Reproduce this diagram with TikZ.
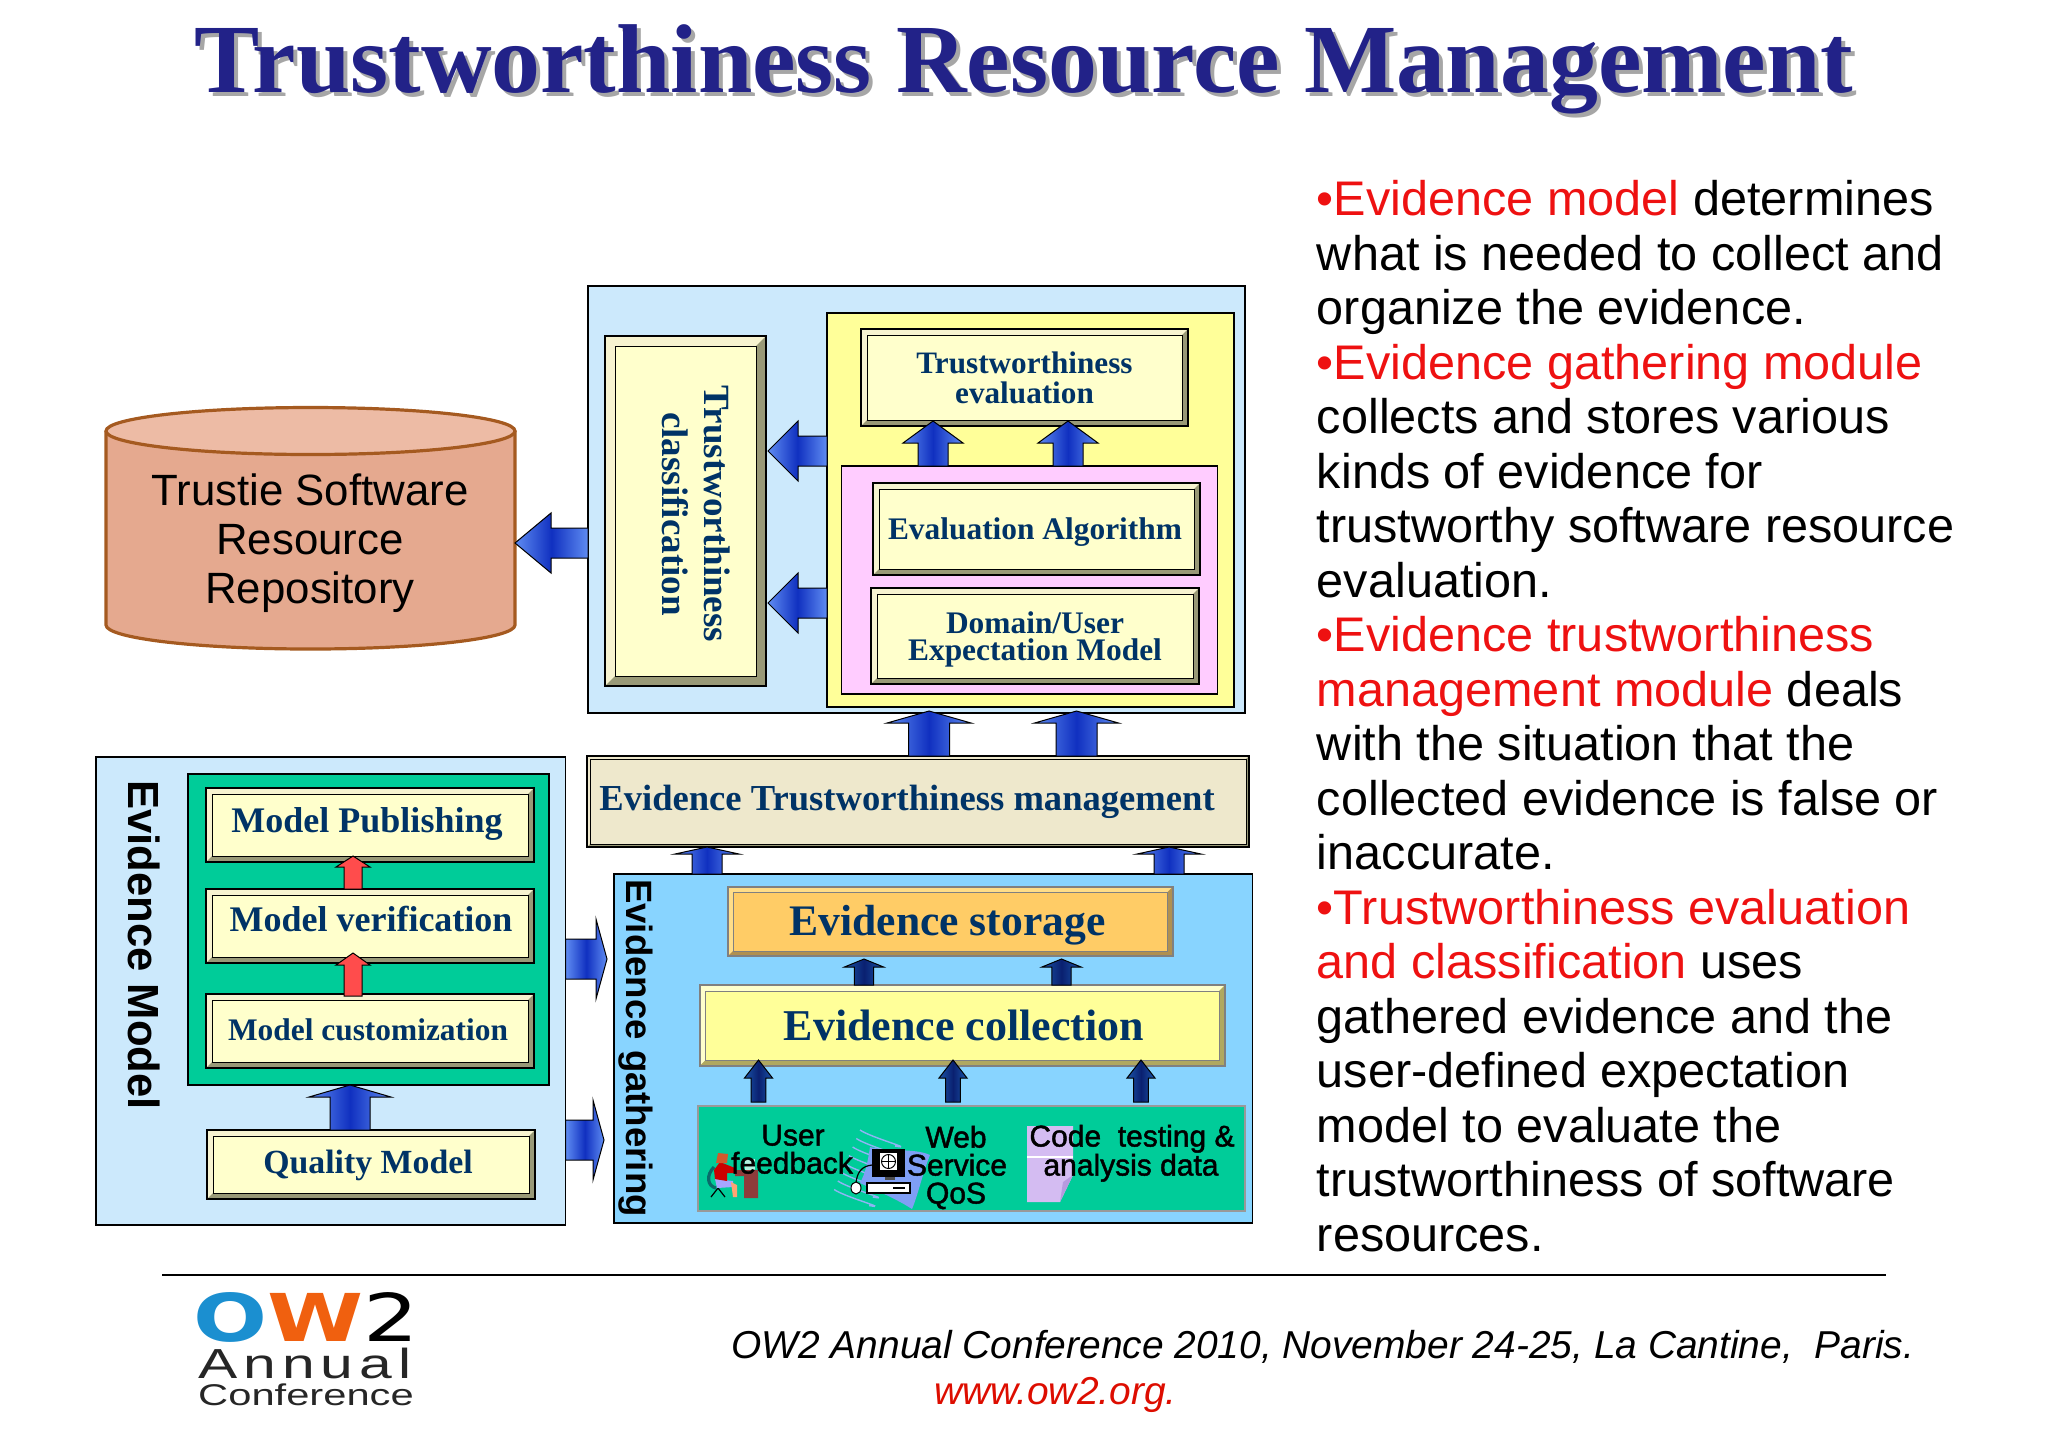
\documentclass[tikz,border=0pt]{standalone}
\usepackage{amsmath}
\usepackage{fontspec}
\usetikzlibrary{calc,fit}
\setmainfont{Liberation Serif}
\setsansfont{Liberation Sans}
\newfontfamily\logofont{DejaVu Sans}
\newfontfamily\annualfont[LetterSpace=10]{Liberation Sans}
\newfontfamily\sourcefont[FakeBold=1.5]{Liberation Sans}

\definecolor{skypanel}{HTML}{CCE9FC}
\definecolor{gatherfill}{HTML}{88D4FF}
\definecolor{paleyellow}{HTML}{FFFF99}
\definecolor{palepink}{HTML}{FFCCFF}
\definecolor{seagreen}{HTML}{00CC99}
\definecolor{cream}{HTML}{FFFFCC}
\definecolor{creamlight}{HTML}{F7F3D0}
\definecolor{olivedark}{HTML}{999977}
\definecolor{mgmtfill}{HTML}{EEE8CC}
\definecolor{storagefill}{HTML}{FFCC66}
\definecolor{storagelight}{HTML}{FFDD88}
\definecolor{storagedark}{HTML}{B09050}
\definecolor{collectdark}{HTML}{B0A860}
\definecolor{navytext}{HTML}{003366}
\definecolor{titleblue}{HTML}{222288}
\definecolor{arrowlight}{HTML}{5F8CF2}
\definecolor{arrowdeep}{HTML}{1030C0}
\definecolor{navylight}{HTML}{1A55A8}
\definecolor{navydeep}{HTML}{0A2070}
\definecolor{repofill}{HTML}{E5A98F}
\definecolor{repotop}{HTML}{EDBBA5}
\definecolor{repoline}{HTML}{A55A20}
\definecolor{bulletred}{HTML}{EE1111}
\definecolor{wavefill}{HTML}{7F9FF5}
\definecolor{wavestripe}{HTML}{8FB4F5}
\definecolor{doclilac}{HTML}{D4BCF2}
\definecolor{docfold}{HTML}{B79ADF}
\definecolor{deskbrown}{HTML}{8E3B3B}
\definecolor{chairteal}{HTML}{0A6A6A}

\newcommand{\bevelfill}[4]{
    \def\bb{path picture bounding box}
    \fill[#2] (\bb.north west) -- (\bb.north east) -- ([shift={(-#1,-#1)}]\bb.north east)
        -- ([shift={(#1,-#1)}]\bb.north west) -- ([shift={(#1,#1)}]\bb.south west) -- (\bb.south west) -- cycle;
    \fill[#3] (\bb.south east) -- (\bb.south west) -- ([shift={(#1,#1)}]\bb.south west)
        -- ([shift={(-#1,#1)}]\bb.south east) -- ([shift={(-#1,-#1)}]\bb.north east) -- (\bb.north east) -- cycle;
    \draw[#4,line width=.5pt] ([shift={(#1,-#1)}]\bb.north west) rectangle ([shift={(-#1,#1)}]\bb.south east);
}
\newcommand{\blockarrow}[6]{
    \draw[#1] let \p1=#2, \p2=#3, \n1={atan2(\y2-\y1,\x2-\x1)}, \n2={veclen(\x2-\x1,\y2-\y1)} in
        [shift={(\p1)},rotate=\n1] (0pt,{#6*0.5pt}) -- ({\n2-#4*0.5pt},{#6*0.5pt}) -- ({\n2-#4*0.5pt},{#5*0.5pt})
        -- (\n2,0pt) -- ({\n2-#4*0.5pt},{-#5*0.5pt}) -- ({\n2-#4*0.5pt},{-#6*0.5pt}) -- (0pt,{-#6*0.5pt}) -- cycle;
}

\tikzset{
    panel/.style={draw=black,line width=.7pt,inner sep=0pt,outer sep=0pt},
    bevelbox/.style n args={5}{draw=#5,line width=1pt,fill=#2,inner sep=0pt,outer sep=0pt,
        path picture={\bevelfill{#1}{#3}{#4}{#5}}},
    creambox/.style={bevelbox={3pt}{cream}{creamlight}{olivedark}{black}},
    boxlabel/.style 2 args={inner sep=0pt,align=center,text=navytext,font=\fontsize{#1}{#2}\selectfont\bfseries},
    sanslabel/.style={font=\sourcefont\fontsize{15}{15}\selectfont,text=black,inner sep=0pt,text height=10.5pt,text depth=0pt},
    bluearrow/.style={draw=black,line width=.5pt,left color=arrowlight,right color=arrowlight,middle color=arrowdeep},
    navyarrow/.style={draw=black,line width=.5pt,left color=navylight,right color=navylight,middle color=navydeep},
    redarrow/.style={draw=black,line width=.5pt,fill=red!70!white},
}

\begin{document}
\begin{tikzpicture}[x=0.5pt,y=-0.5pt]
    \useasboundingbox (0,0) rectangle (2048,1447);

    \node (titleshadow) [anchor=base,text=black!35,font=\fontsize{48.9}{50}\selectfont\bfseries] at (1028,96) {Trustworthiness Resource Management};
    \node (title) [anchor=base,text=titleblue,font=\fontsize{48.9}{50}\selectfont\bfseries] at (1024,92) {Trustworthiness Resource Management};

    % repository
    \draw [repoline,fill=repofill,line width=1.6pt] (106,431) -- (106,625) arc [start angle=180,end angle=360,x radius=102.25pt,y radius=12pt] -- (515,431);
    \draw [repoline,fill=repotop,line width=1.6pt] (310.5,431) ellipse [x radius=102.25pt,y radius=11.75pt];
    \node (repo) [align=center,font=\sffamily\fontsize{21.9}{24.5}\selectfont] at (310,543) {Trustie Software\\Resource\\Repository};

    % trustworthiness panel
    \node (trustpanel) [panel,fill=skypanel,fit={(588,286) (1245,713)}] {};
    \node (yellowpanel) [panel,fill=paleyellow,fit={(827,313) (1234,707)}] {};
    \node (pinkpanel) [panel,fill=palepink,fit={(841.5,466) (1217.5,694)}] {};
    \node (classif) [bevelbox={5pt}{cream}{creamlight}{olivedark}{black},fit={(605,336) (766,686)}] {};
    \node (classiflabel) [rotate=-90,boxlabel={18.5}{21}] at (696,514) {Trustworthiness\\classification};
    \node (evaluation) [creambox,fit={(861,329) (1188,426)}] {};
    \node (evaluationlabel) [boxlabel={15.6}{15}] at (1024.5,378) {Trustworthiness\\evaluation};
    \node (algorithm) [creambox,fit={(873,483) (1200,575)}] {};
    \node (algorithmlabel) [boxlabel={15.7}{15}] at (1035,532) {Evaluation Algorithm};
    \node (expectation) [creambox,fit={(871,588) (1199,684)}] {};
    \node (expectationlabel) [boxlabel={15.7}{13.5}] at (1035,639) {Domain/User\\Expectation Model};

    % evidence management
    \node (mgmt) [bevelbox={1.5pt}{mgmtfill}{mgmtfill}{olivedark}{black},fit={(587,756) (1249,847)}] {};
    \node (mgmtlabel) [anchor=west,boxlabel={18.3}{20}] at (599,802) {Evidence Trustworthiness management};

    % evidence model panel
    \node (modelpanel) [panel,fill=skypanel,fit={(96,757) (565.7,1225)}] {};
    \node (modellabel) [rotate=-90,font=\sffamily\bfseries\fontsize{21.8}{24}\selectfont] at (144,945) {Evidence Model};
    \node (modelgreen) [panel,fill=seagreen,fit={(188,774) (549,1085)}] {};
    \node (publishing) [creambox,fit={(206,788) (534,862)}] {};
    \node (publishinglabel) [boxlabel={18}{20}] at (367,824) {Model Publishing};
    \node (verification) [creambox,fit={(206,889) (534,963)}] {};
    \node (verificationlabel) [boxlabel={18}{20}] at (371,919) {Model verification};
    \node (customization) [creambox,fit={(206,994) (534,1068)}] {};
    \node (customizationlabel) [boxlabel={15.7}{18}] at (368,1030) {Model customization};
    \node (quality) [creambox,fit={(207,1130) (535,1199)}] {};
    \node (qualitylabel) [boxlabel={16.9}{18}] at (368,1165) {Quality Model};

    % evidence gathering panel
    \node (gatherpanel) [panel,fill=gatherfill,fit={(614,874) (1252.6,1223)}] {};
    \node (gatherlabel) [rotate=-90,font=\sffamily\bfseries\fontsize{18.3}{20}\selectfont] at (636,1048) {Evidence gathering};
    \node (storage) [bevelbox={2.5pt}{storagefill}{storagelight}{storagedark}{black!50},fit={(728,887) (1172.6,956)}] {};
    \node (storagelabel) [boxlabel={21.8}{24}] at (947.5,925) {Evidence storage};
    \node (collection) [bevelbox={3pt}{paleyellow}{cream}{collectdark}{black!50},fit={(699.6,985) (1225,1066)}] {};
    \node (collectionlabel) [boxlabel={22}{24}] at (964,1025) {Evidence collection};
    \node (sources) [draw=black!40,line width=.7pt,fill=seagreen,inner sep=0pt,outer sep=0pt,fit={(698,1106) (1245,1211)}] {};

    % user at desk
    \fill [deskbrown] (735,1170) -- (758,1170) -- (758,1198) -- (744,1198) -- (744,1176) -- (735,1176) -- cycle;
    \fill [white!70!seagreen] (745,1159) rectangle (755,1170);
    \draw [chairteal,line width=1.6pt] (714,1167) .. controls (706,1175) and (707,1186) .. (716,1188);
    \draw [black,line width=.6pt] (718,1188) -- (711,1197) (718,1188) -- (725,1197);
    \fill [blue!35!white] (715,1179) -- (733,1181) -- (733,1187) -- (717,1188) -- cycle;
    \fill [red!30!orange!55!white] (731,1182) -- (737,1185) -- (737,1197) -- (733,1197) -- cycle;
    \fill [red!80!black] (714,1170) -- (720,1162) -- (735,1168) -- (735,1173) -- (727,1173) -- (727,1181) -- (715,1179) -- cycle;
    \fill [brown!70!red] (716,1163) -- (718,1153) -- (728,1154) -- (727,1163) -- cycle;

    % computer on a wave
    \foreach \k in {0,...,7} {
        \draw [wavestripe,line width=.7pt] ({860-3.7*\k},{1130+8.5*\k}) .. controls +(12,8) and +(22,4) .. +(35,16);
    }
    \fill [wavefill] (870,1147) .. controls (890,1152) and (915,1148) .. (930,1155) .. controls (922,1175) and (918,1195) .. (912,1209)
        .. controls (895,1198) and (875,1190) .. (860,1183) .. controls (866,1172) and (868,1160) .. (870,1147) -- cycle;
    \draw [black,line width=.6pt] (856,1183) .. controls (857,1172) and (862,1166) .. (872,1165);
    \draw [black,fill=white,line width=.5pt] (856,1188) ellipse [x radius=2.5pt,y radius=3pt];
    \fill [black] (872,1149) rectangle (905,1177);
    \fill [white] (880,1153) rectangle (897,1170);
    \draw [black,line width=.5pt] (888.5,1161.5) circle [radius=3.5pt];
    \draw [black,line width=.3pt] (881.5,1161.5) -- (895.5,1161.5) (888.5,1154.5) -- (888.5,1168.5);
    \fill [black!70] (885,1177) rectangle (895,1180);
    \draw [black,fill=white,line width=.6pt] (867,1183) rectangle (910,1193);
    \fill [black] (893,1187) rectangle (905,1189);

    % document
    \fill [doclilac] (1027,1126) -- (1073,1126) -- (1073,1175) -- (1060,1202) -- (1027,1202) -- cycle;
    \fill [docfold] (1073,1175) -- (1063,1182) -- (1060,1202) -- cycle;
    \draw [white,line width=.6pt] (1027,1157) -- (1073,1157);

    \node (feedbackone) [sanslabel] at (793,1135) {User};
    \node (feedbacktwo) [sanslabel] at (792,1163) {feedback};
    \node (serviceone) [sanslabel] at (956,1137) {Web};
    \node (servicetwo) [sanslabel] at (957,1165) {Service};
    \node (servicethree) [sanslabel] at (956,1193) {QoS};
    \node (testingone) [sanslabel] at (1132,1136) {Code\ \ testing \&};
    \node (testingtwo) [sanslabel] at (1131,1165) {analysis data};

    % arrows
    \coordinate (repotip) at (515,543);
    \coordinate (storetipone) at (607,959);
    \coordinate (storetiptwo) at (604,1140);
    \blockarrow{bluearrow}{(trustpanel.west |- repotip)}{(repotip)}{36}{30}{15}
    \foreach \rowpos in {451,603} {
        \blockarrow{bluearrow}{(yellowpanel.west |- 0,\rowpos)}{($(classif.east |- 0,\rowpos)+(2,0)$)}{30}{30}{15}
    }
    \foreach \colpos in {933,1068} {
        \blockarrow{bluearrow}{(pinkpanel.north -| \colpos,0)}{($(evaluation.south -| \colpos,0)+(0,-5)$)}{22}{30}{15}
    }
    \foreach \colpos in {929,1076.5} {
        \blockarrow{bluearrow}{(mgmt.north -| \colpos,0)}{($(trustpanel.south -| \colpos,0)+(0,-2)$)}{12}{42}{20.5}
    }
    \foreach \colpos in {707,1169} {
        \blockarrow{bluearrow}{(gatherpanel.north -| \colpos,0)}{(mgmt.south -| \colpos,0)}{7}{32}{15}
    }
    \foreach \colpos in {864,1061.5} {
        \blockarrow{navyarrow}{(collection.north -| \colpos,0)}{($(storage.south -| \colpos,0)+(0,3)$)}{8}{19.6}{9.6}
    }
    \foreach \colpos in {758.5,953,1141} {
        \blockarrow{navyarrow}{($(sources.north -| \colpos,0)+(0,-4)$)}{($(collection.south -| \colpos,0)+(0,-6)$)}{18}{14}{7.3}
    }
    \blockarrow{redarrow}{(verification.north -| 353,0)}{($(publishing.south -| 353,0)+(0,-6)$)}{11}{17}{9}
    \blockarrow{redarrow}{($(customization.north -| 353,0)+(0,2)$)}{($(verification.south -| 353,0)+(0,-10)$)}{12}{17}{9}
    \blockarrow{bluearrow}{(quality.north -| 350,0)}{(modelgreen.south -| 350,0)}{12}{41}{20}
    \blockarrow{bluearrow}{(modelpanel.east |- storetipone)}{(storetipone)}{11}{40}{20}
    \blockarrow{bluearrow}{(modelpanel.east |- storetiptwo)}{(storetiptwo)}{11}{40}{20}

    \node (bodytext) [anchor=north west,inner sep=0pt,align=left,font=\sffamily\fontsize{24.3}{27.25}\selectfont] at (1316.5,180) {%
        \textcolor{bulletred}{•Evidence model} determines\\
        what is needed to collect and\\
        organize the evidence.\\
        \textcolor{bulletred}{•Evidence gathering module}\\
        collects and stores various\\
        kinds of evidence for\\
        trustworthy software resource\\
        evaluation.\\
        \textcolor{bulletred}{•Evidence trustworthiness}\\
        \textcolor{bulletred}{management module} deals\\
        with the situation that the\\
        collected evidence is false or\\
        inaccurate.\\
        \textcolor{bulletred}{•Trustworthiness evaluation}\\
        \textcolor{bulletred}{and classification} uses\\
        gathered evidence and the\\
        user-defined expectation\\
        model to evaluate the\\
        trustworthiness of software\\
        resources.};

    % footer
    \coordinate (ruleleft) at (162,1275);
    \coordinate (ruleright) at (1886,1275);
    \draw [black,line width=.8pt] (ruleleft) -- (ruleright);
    \node (logo) [inner sep=0pt,xscale=1.32,anchor=base,text depth=0pt,font=\logofont\fontsize{33}{33}\selectfont] at (306,1341) {\textbf{\textcolor[HTML]{1B8FD0}{O}\textcolor[HTML]{F0600F}{W}}2};
    \node (annual) [inner sep=0pt,xscale=1.4,anchor=base,text height=15pt,text depth=0pt,font=\annualfont\fontsize{21}{21}\selectfont,text=black!85] at (305,1378) {Annual};
    \node (conference) [inner sep=0pt,xscale=1.39,anchor=base,text height=10.8pt,text depth=0pt,font=\sffamily\fontsize{15}{15}\selectfont,text=black!85] at (306,1405) {Conference};
    \node (conftext) [inner sep=0pt,anchor=base west,font=\sffamily\itshape\fontsize{19.45}{20}\selectfont] at (731,1358) {OW2 Annual Conference 2010, November 24-25, La Cantine,\ \ Paris.};
    \node (confurl) [inner sep=0pt,anchor=base west,text=red!85!black!90!orange,font=\sffamily\itshape\fontsize{19.45}{20}\selectfont] at (934,1404) {www.ow2.org.};
\end{tikzpicture}
\end{document}
